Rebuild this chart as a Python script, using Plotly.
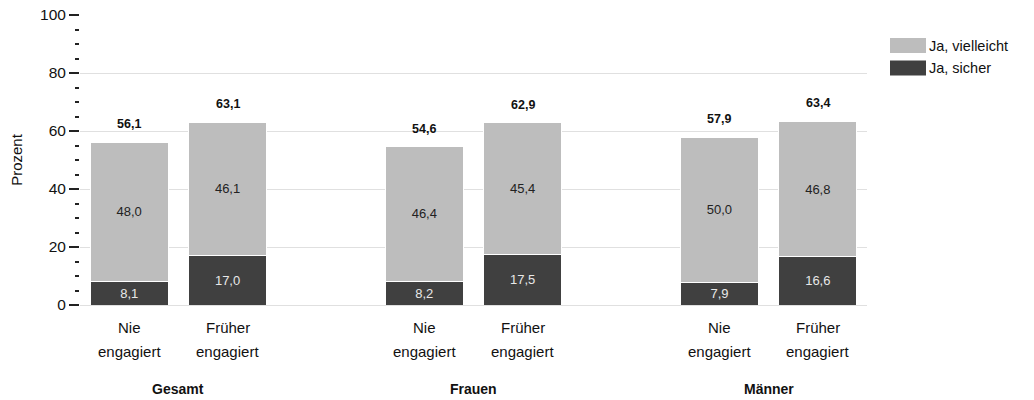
import plotly.graph_objects as go

groups = ["Gesamt", "Frauen", "Männer"]
subcat_line1 = ["Nie", "Früher"] * 3
subcat_line2 = ["engagiert", "engagiert"] * 3
ja_sicher = [8.1, 17.0, 8.2, 17.5, 7.9, 16.6]
ja_vielleicht = [48.0, 46.1, 46.4, 45.4, 50.0, 46.8]
totals = [56.1, 63.1, 54.6, 62.9, 57.9, 63.4]
xpos = [0, 1, 3, 4, 6, 7]
group_centers = [0.5, 3.5, 6.5]

LIGHT = "#bdbdbd"
DARK = "#404040"
FONT = "Liberation Sans, Arial, sans-serif"

W, H = 1034, 400
PL, PR, PT, PB = 80, 867, 15, 305  # plot area in page px

def fmt(v):
    return f"{v:.1f}".replace(".", ",")

def px(xp):
    return (xp - PL) / (PR - PL)

def py(yp):
    return (PB - yp) / (PB - PT)

fig = go.Figure()
fig.add_trace(go.Bar(
    x=xpos, y=ja_sicher, name="Ja, sicher", width=0.79,
    marker=dict(color=DARK, line=dict(color="white", width=1)),
    text=[fmt(v) for v in ja_sicher], textposition="inside", insidetextanchor="middle",
    textfont=dict(color="#e8e8e8", size=13, family=FONT), showlegend=False,
))
fig.add_trace(go.Bar(
    x=xpos, y=ja_vielleicht, name="Ja, vielleicht", width=0.79,
    marker=dict(color=LIGHT, line=dict(color="white", width=1)),
    text=[fmt(v) for v in ja_vielleicht], textposition="inside", insidetextanchor="middle",
    textfont=dict(color="#222222", size=13, family=FONT), showlegend=False,
))

for x, t in zip(xpos, totals):
    fig.add_annotation(x=x, y=t, text=f"<b>{fmt(t)}</b>", showarrow=False,
                       yanchor="bottom", yshift=9, font=dict(size=12.5, color="#111", family=FONT))

for x, l1, l2 in zip(xpos, subcat_line1, subcat_line2):
    fig.add_annotation(x=x, y=0, yref="paper", text=l1, showarrow=False,
                       yanchor="middle", yshift=-22, font=dict(size=15, color="#111", family=FONT))
    fig.add_annotation(x=x, y=0, yref="paper", text=l2, showarrow=False,
                       yanchor="middle", yshift=-46, font=dict(size=15, color="#111", family=FONT))

for x, g in zip(group_centers, groups):
    fig.add_annotation(x=x, y=0, xref="x", yref="paper", text=f"<b>{g}</b>", showarrow=False,
                       yanchor="middle", yshift=-84, font=dict(size=14, color="#111", family=FONT))

# custom legend
legend_items = [("Ja, vielleicht", LIGHT), ("Ja, sicher", DARK)]
for i, (name, col) in enumerate(legend_items):
    yc = 45.5 + i * 22.5
    fig.add_shape(type="rect", xref="paper", yref="paper",
                  x0=px(890), x1=px(926), y0=py(yc + 7.5), y1=py(yc - 7.5),
                  fillcolor=col, line=dict(width=0))
    fig.add_annotation(xref="paper", yref="paper", x=px(929), y=py(yc),
                       text=name, showarrow=False, xanchor="left", yanchor="middle",
                       xshift=-2, font=dict(size=14.5, color="#111", family=FONT))

fig.update_layout(
    barmode="stack",
    width=W, height=H,
    margin=dict(l=PL, r=W - PR, t=PT, b=H - PB, autoexpand=False),
    plot_bgcolor="white", paper_bgcolor="white",
    font=dict(family=FONT, size=15, color="#111"),
    xaxis=dict(range=[-0.5, 7.5], showticklabels=False,
               showgrid=False, zeroline=False, showline=True, linecolor="#e0e0e0", linewidth=1,
               ticks=""),
    yaxis=dict(range=[0, 100], tickvals=[0, 20, 40, 60, 80, 100],
               showgrid=True, gridcolor="#e0e0e0", gridwidth=1, zeroline=False,
               showline=False, ticks="outside", ticklen=10, tickwidth=1.5, tickcolor="#222",
               ticklabeloverflow="allow",
               minor=dict(dtick=5, ticks="outside", ticklen=4, tickwidth=1.5, tickcolor="#222", showgrid=False),
               tickfont=dict(size=15.5, color="#111"),
               title=dict(text="Prozent", font=dict(size=15, color="#111"), standoff=13)),
)

fig.write_html("out.html", config={"displayModeBar": False},
               post_script="document.body.style.margin='0';document.body.style.overflow='hidden';")
